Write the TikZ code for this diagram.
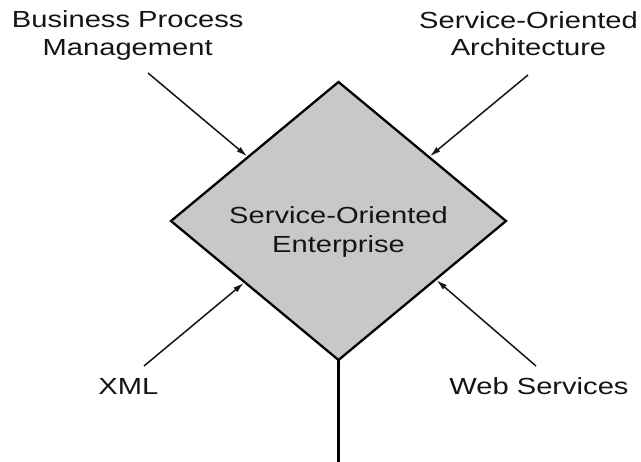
\documentclass[tikz,border=0pt]{standalone}
\usepackage{graphicx}
\usepackage{fontspec}
\setmainfont{Liberation Sans}
\usetikzlibrary{shapes.geometric,arrows.meta,calc}
\definecolor{fillgray}{RGB}{200,200,200}
\definecolor{ink}{RGB}{20,20,20}
\newcommand{\widetext}[1]{\scalebox{1.25}[1]{\begin{tabular}[t]{@{}c@{}}#1\end{tabular}}}
\begin{document}
\begin{tikzpicture}[x=1pt,y=-1pt,
  lbl/.style={inner sep=0pt, outer sep=0pt, anchor=base, text=ink,
              font=\fontsize{23.3}{27.5}\selectfont},
  feed/.style={draw=ink, line width=1.5pt, -{Latex[length=11pt,width=6pt]}, shorten >=1pt},
  core/.style={diamond, draw=black, line width=2.3pt, fill=fillgray,
               minimum width=335pt, minimum height=278pt, shape aspect=1.205,
               inner sep=0pt, outer sep=0pt, text=ink,
               font=\fontsize{23.3}{29.7}\selectfont,
               text height=20.8pt, text depth=16.2pt}]
\useasboundingbox (0,0) rectangle (641,462);

% central diamond
\node[core] (soe) at (338.5,221) {\widetext{Service-Oriented\\Enterprise}};

% labels
\node[lbl] (bpm) at (127.7,27.7) {\widetext{Business Process\\Management}};
\node[lbl] (soa) at (528.5,28.3) {\widetext{Service-Oriented\\Architecture}};
\node[lbl] (xml) at (128.3,395) {\widetext{XML}};
\node[lbl] (ws)  at (539,395)   {\widetext{Web Services}};

% arrow start points
\coordinate (bpmS) at (148,73);
\coordinate (soaS) at (528,75);
\coordinate (xmlS) at (144,366);
\coordinate (wsS)  at (536,366);

% arrows into the diamond
\draw[feed] (bpmS) -- ($(soe.north)!0.54!(soe.west)$);
\draw[feed] (soaS) -- ($(soe.north)!0.54!(soe.east)$);
\draw[feed] (xmlS) -- ($(soe.south)!0.56!(soe.west)$);
\draw[feed] (wsS)  -- ($(soe.south)!0.58!(soe.east)$);

% outgoing line
\coordinate (outE) at (338.5,462);
\draw[line width=2.4pt, draw=black] (soe.south) -- (outE);
\end{tikzpicture}
\end{document}
